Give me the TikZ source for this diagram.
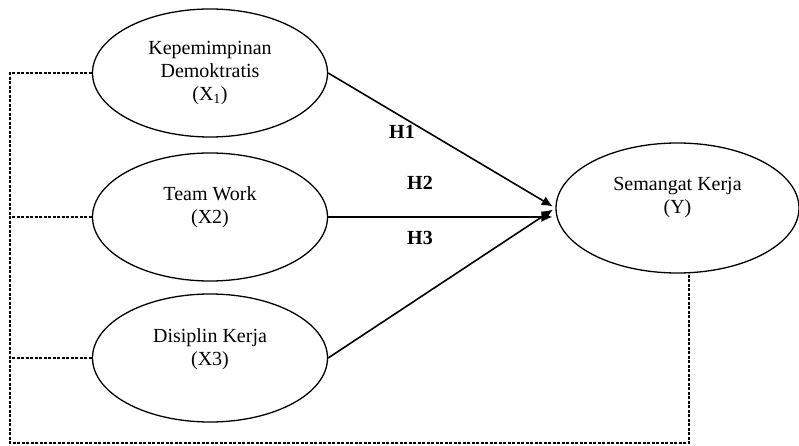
\documentclass[tikz,border=0pt]{standalone}
\usepackage{fontspec}
\setmainfont{Liberation Serif}
\usetikzlibrary{shapes.geometric,arrows.meta}
\tikzset{
  var/.style={draw, ellipse, line width=1.3pt, inner sep=0pt,
    minimum width=235pt, minimum height=128pt},
  txt/.style={align=center, font=\fontsize{20}{23}\selectfont, inner sep=0pt},
  hyp/.style={font=\fontsize{20}{23}\selectfont\bfseries, inner sep=0pt},
  path/.style={line width=1.6pt, -{Latex[length=11pt,width=10pt]}, shorten >=3pt},
  link/.style={line width=1.2pt, dash pattern=on 3pt off 1.5pt}
}
\begin{document}
\begin{tikzpicture}[x=1pt, y=-1pt]
  \useasboundingbox (0,0) rectangle (799,446);

  \node[var] (x1) at (210,73) {};
  \node[var] (x2) at (210,217) {};
  \node[var] (x3) at (210,358) {};
  \node[var, minimum width=243pt, minimum height=130pt] (y) at (677.5,208) {};

  \node[txt] (t1) at (x1) {Kepemimpinan\\Demoktratis\\(X\textsubscript{1})};
  \node[txt] (t2) at ([yshift=10pt]x2) {Team Work\\(X2)};
  \node[txt] (t3) at ([yshift=9pt]x3) {Disiplin Kerja\\(X3)};
  \node[txt] (ty) at ([yshift=10pt]y) {Semangat Kerja\\(Y)};

  \draw[path] (x1.east) -- (y.west);
  \draw[path] (x2.east) -- (x2.east -| y.west);
  \draw[path] (x3.east) -- (y.west);

  \node[hyp] (h1) at (402,132) {H1};
  \node[hyp] (h2) at (420,183) {H2};
  \node[hyp] (h3) at (420,238) {H3};

  \coordinate (rail) at (10,443);
  \draw[link] (x1.west) -| (rail) -| (y.-80);
  \draw[link] (x2.west) -- (x2.west -| rail);
  \draw[link] (x3.west) -- (x3.west -| rail);
\end{tikzpicture}
\end{document}
